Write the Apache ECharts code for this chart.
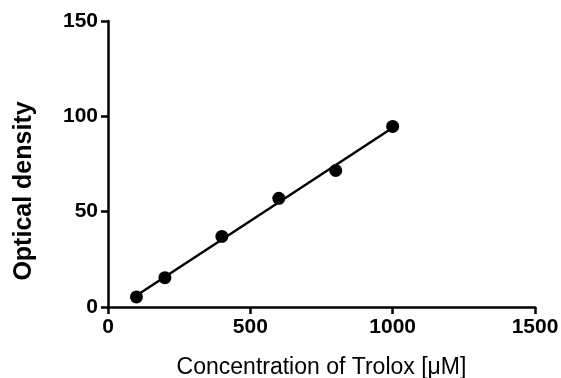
<!DOCTYPE html>
<html>
<head>
<meta charset="utf-8">
<script src="https://cdn.jsdelivr.net/npm/echarts@6/dist/echarts.min.js"></script>
<style>
  html, body { margin: 0; padding: 0; background: #fff; }
  #chart { width: 561px; height: 378px; }
</style>
</head>
<body>
<div id="chart"></div>
<script>
// Trolox standard curve
const concentrations = [100, 200, 400, 600, 800, 1000]
const densities = [5.3, 15.4, 37, 57, 71.6, 94.7]

// fitted line endpoints
const fitX = [100, 1000]
const fitY = [6, 94]

const xTicks = [0, 500, 1000, 1500]
const yTicks = [0, 50, 100, 150]

const chart = echarts.init(document.getElementById('chart'))

const axisText = {
  color: '#000',
  fontFamily: 'Liberation Sans, Arial, sans-serif',
  fontWeight: 'bold',
  fontSize: 21
}

const option = {
  animation: false,
  grid: {
    left: 108,
    right: 26,
    top: 21,
    bottom: 71,
    outerBoundsMode: 'none',
    containLabel: false
  },
  // y title sits lower than the axis middle in the original, so draw it by hand
  graphic: [
    {
      type: 'text',
      x: 24,
      y: 191,
      rotation: Math.PI / 2,
      style: {
        text: 'Optical density',
        fill: '#000',
        font: 'bold 25px "Liberation Sans", Arial, sans-serif',
        align: 'center',
        verticalAlign: 'middle'
      }
    }
  ],
  xAxis: {
    type: 'value',
    min: xTicks[0],
    max: xTicks[xTicks.length - 1],
    interval: 500,
    name: 'Concentration of Trolox [\u03BCM]',
    nameLocation: 'middle',
    nameGap: 49,
    nameTextStyle: {
      color: '#000',
      fontFamily: 'Liberation Sans, Arial, sans-serif',
      fontSize: 23
    },
    axisLine: { lineStyle: { color: '#000', width: 2.5 } },
    axisTick: { length: 7, lineStyle: { color: '#000', width: 2.5 } },
    axisLabel: { ...axisText, margin: 10, formatter: v => String(v) },
    splitLine: { show: false }
  },
  yAxis: {
    type: 'value',
    min: yTicks[0],
    max: yTicks[yTicks.length - 1],
    interval: 50,
    axisLine: { show: true, lineStyle: { color: '#000', width: 2.5 } },
    axisTick: { show: true, length: 7, lineStyle: { color: '#000', width: 2.5 } },
    axisLabel: { ...axisText, margin: 10 },
    splitLine: { show: false }
  },
  series: [
    {
      type: 'line',
      data: fitX.map((x, i) => [x, fitY[i]]),
      showSymbol: false,
      lineStyle: { color: '#000', width: 2.5 },
      z: 2
    },
    {
      type: 'scatter',
      data: concentrations.map((x, i) => [x, densities[i]]),
      symbol: 'circle',
      symbolSize: 13,
      itemStyle: { color: '#000', opacity: 1 },
      z: 3
    }
  ]
}

chart.setOption(option)
</script>
</body>
</html>
